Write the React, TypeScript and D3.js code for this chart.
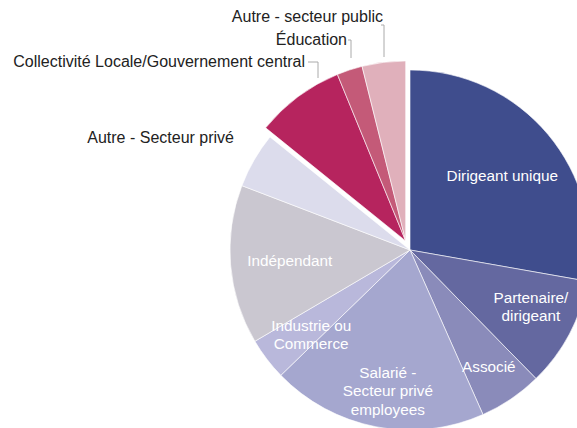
import React from "react";
import * as d3 from "d3";

const categories = [
  "Dirigeant unique",
  "Partenaire/ dirigeant",
  "Associé",
  "Salarié - Secteur privé employees",
  "Industrie ou Commerce",
  "Indépendant",
  "Autre - Secteur privé",
  "Collectivité Locale/Gouvernement central",
  "Éducation",
  "Autre - secteur public",
];
const values = [27.8, 9.9, 5.7, 19.4, 3.8, 14.3, 5.0, 8.0, 2.3, 3.9];
const colors = [
  "#3f4d8d",
  "#6468a0",
  "#8a8bba",
  "#a5a7cf",
  "#b9b8db",
  "#cac7d0",
  "#dcdcec",
  "#b6245e",
  "#c45a78",
  "#e0b0bb",
];
const exploded = [false, false, false, false, false, false, false, true, true, true];

const insideLines: Record<number, string[]> = {
  0: ["Dirigeant unique"],
  1: ["Partenaire/", "dirigeant"],
  2: ["Associé"],
  3: ["Salarié -", "Secteur privé", "employees"],
  4: ["Industrie ou", "Commerce"],
  5: ["Indépendant"],
};
// label placement: radius fraction and angle shift (deg) from slice middle
const insideRadius: Record<number, number> = { 0: 0.66, 1: 0.74, 2: 0.78, 3: 0.79, 4: 0.72, 5: 0.67 };
const insideShift: Record<number, number> = { 0: 1, 1: -3, 2: 0, 3: -2, 4: -3, 5: 0 };

export default function App() {
  const W = 577;
  const H = 428;
  const cx = 410;
  const cy = 250;
  const r = 180;
  const pie = d3.pie<number>().value((d) => d).sort(null);
  const arcs = pie(values);
  const arc = d3.arc<d3.PieArcDatum<number>>().innerRadius(0).outerRadius(r);

  const grpStart = arcs[7].startAngle;
  const grpEnd = arcs[9].endAngle;
  const grpMid = (grpStart + grpEnd) / 2;
  const off = 10;
  const ox = Math.sin(grpMid) * off;
  const oy = -Math.cos(grpMid) * off;

  const font = "Liberation Sans, Arial, sans-serif";

  return (
    <svg width={W} height={H} style={{ position: "absolute", left: 0, top: 0 }}>
      <rect width={W} height={H} fill="#fff" />
      <g transform={`translate(${cx},${cy})`}>
        {arcs.map((a, i) => (
          <path
            key={i}
            d={arc(a) || ""}
            fill={colors[i]}
            stroke="#fff"
            strokeWidth={0.6}
            transform={exploded[i] ? `translate(${ox},${oy})` : undefined}
          />
        ))}
        {arcs.map((a, i) => {
          const lines = insideLines[i];
          if (!lines) return null;
          const mid = (a.startAngle + a.endAngle) / 2 + (insideShift[i] * Math.PI) / 180;
          const rr = r * insideRadius[i];
          const x = Math.sin(mid) * rr;
          const y = -Math.cos(mid) * rr;
          const lh = 18.5;
          const y0 = y - ((lines.length - 1) * lh) / 2;
          return (
            <text
              key={"t" + i}
              x={x}
              y={y0}
              textAnchor="middle"
              dominantBaseline="central"
              fill="#fff"
              fontFamily={font}
              fontSize={15.3}
            >
              {lines.map((l, j) => (
                <tspan key={j} x={x} y={y0 + j * lh}>
                  {l}
                </tspan>
              ))}
            </text>
          );
        })}
      </g>
      <g fontFamily={font} fontSize={16} fill="#222">
        <text x={383} y={22} textAnchor="end">{categories[9]}</text>
        <polyline points="381,25 384,25 384,57" fill="none" stroke="#aaa" strokeWidth={1} />
        <text x={347} y={45} textAnchor="end">{categories[8]}</text>
        <polyline points="348,40 351,40 351,58" fill="none" stroke="#aaa" strokeWidth={1} />
        <text x={305} y={67} textAnchor="end">{categories[7]}</text>
        <polyline points="308,62 318,62 318,78" fill="none" stroke="#aaa" strokeWidth={1} />
        <text x={234} y={143} textAnchor="end">{categories[6]}</text>
      </g>
    </svg>
  );
}
